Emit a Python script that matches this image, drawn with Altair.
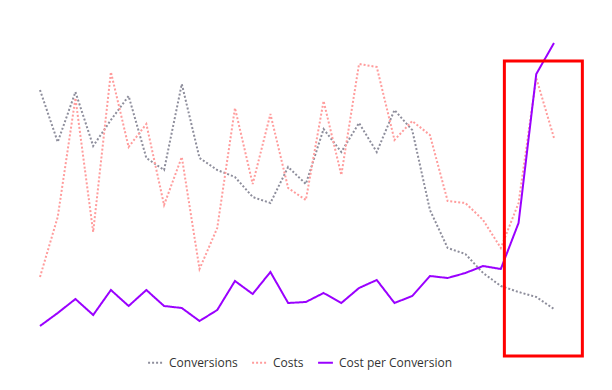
import altair as alt
import pandas as pd

days = list(range(30))
conversions = [270, 218, 268, 214, 240, 264, 202, 190, 276, 202, 190, 183, 163, 157, 193, 176, 231, 208, 237, 208,
               250, 230, 150, 112, 106, 87, 74, 68, 63, 51]
costs = [83, 143, 262, 128, 288, 213, 236, 155, 203, 91, 132, 252, 176, 246, 172, 160, 259, 185, 296, 293,
         220, 239, 225, 159, 157, 140, 112, 157, 282, 222]
cost_per_conv = [34, 47, 61, 45, 70, 54, 70, 54, 52, 39, 50, 79, 66, 88, 57, 58, 67, 57, 72, 80,
                 57, 64, 84, 82, 87, 94, 91, 137, 286, 317]

series = ["Conversions", "Costs", "Cost per Conversion"]
rows = []
for name, vals in zip(series, [conversions, costs, cost_per_conv]):
    for d, v in zip(days, vals):
        rows.append({"day": d, "value": v, "series": name})
df = pd.DataFrame(rows)

highlight = pd.DataFrame([{"x0": 26.2, "x1": 30.6, "y0": 4, "y1": 299}])

xs = alt.Scale(domain=[0, 29], nice=False, zero=False)
ys = alt.Scale(domain=[20, 330], nice=False, zero=False)

lines = alt.Chart(df).mark_line(strokeWidth=2, clip=False).encode(
    x=alt.X("day:Q", scale=xs, axis=None),
    y=alt.Y("value:Q", scale=ys, axis=None),
    color=alt.Color("series:N",
                    scale=alt.Scale(domain=series, range=["#8e8e9c", "#ff9c9c", "#9a00ff"]),
                    sort=series,
                    legend=alt.Legend(title=None, orient="none", direction="horizontal",
                                      legendX=107, legendY=324,
                                      symbolType="stroke", symbolSize=220, symbolStrokeWidth=2,
                                      labelFont="Open Sans", labelFontSize=12, labelColor="#333333",
                                      labelOffset=5, columnPadding=10)),
    strokeDash=alt.StrokeDash("series:N",
                              scale=alt.Scale(domain=series, range=[[2, 2], [2, 2], [1, 0]]),
                              sort=series, legend=None),
    order="day:Q",
)

rect = alt.Chart(highlight).mark_rect(fill=None, filled=False, stroke="#ff0000", strokeWidth=3, clip=False).encode(
    x=alt.X("x0:Q", scale=xs, axis=None),
    x2="x1:Q",
    y=alt.Y("y0:Q", scale=ys, axis=None),
    y2="y1:Q",
)

chart = alt.layer(lines, rect).properties(
    width=514, height=310,
    autosize=alt.AutoSizeParams(type="none"),
    padding={"left": 32, "top": 22, "right": 50, "bottom": 40},
).configure_view(stroke=None)

chart.save("out.html", embed_options={"renderer": "svg", "actions": False})
